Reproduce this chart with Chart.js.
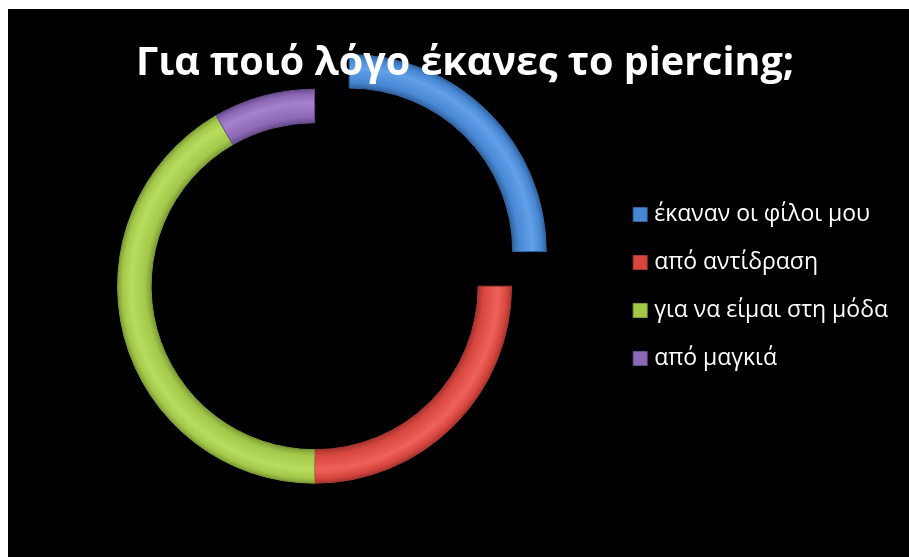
<!DOCTYPE html>
<html>
<head>
<meta charset="utf-8">
<script src="https://cdn.jsdelivr.net/npm/chart.js@4"></script>
<style>
  html, body { margin: 0; padding: 0; background: #ffffff; width: 909px; height: 557px; overflow: hidden; }
  #wrap { position: absolute; left: 8px; top: 9px; width: 901px; height: 548px; background: #000000; }
  canvas { display: block; }
</style>
</head>
<body>
<div id="wrap"><canvas id="c" width="901" height="548"></canvas></div>
<script>
const titleText = 'Για ποιό λόγο έκανες το piercing;';
const categories = ['έκαναν οι φίλοι μου', 'από αντίδραση', 'για να είμαι στη μόδα', 'από μαγκιά'];
const values = [3, 3, 5, 1];
const sliceColors = ['#4787D4', '#D8473F', '#A3C84A', '#8D68B6'];
const lightColors = ['#62A0E8', '#EE6259', '#B8DC5E', '#A682CC'];
const edgeColors = ['#33649F', '#A8352F', '#7E9E36', '#6A4E8E'];
const explode = [196, 0, 0, 0];
const outerR = 197;
const cutoutFrac = 0.83;
const rightGap = 15.5;

function ringFill(ctx) {
  const i = ctx.dataIndex;
  const area = ctx.chart.chartArea;
  if (!area || i === undefined) return sliceColors[i || 0];
  const cx = (area.left + area.right) / 2;
  const cy = (area.top + area.bottom) / 2;
  const inner = outerR * cutoutFrac;
  const g = ctx.chart.ctx.createRadialGradient(cx, cy, inner, cx, cy, outerR);
  g.addColorStop(0, edgeColors[i]);
  g.addColorStop(0.18, sliceColors[i]);
  g.addColorStop(0.6, lightColors[i]);
  g.addColorStop(0.85, sliceColors[i]);
  g.addColorStop(1, edgeColors[i]);
  return g;
}

const layoutTweaks = {
  id: 'layoutTweaks',
  start(chart) {
    if (Chart.layouts && Chart.layouts.addBox) {
      Chart.layouts.addBox(chart, {
        position: 'right', weight: 5000, fullSize: false, options: { display: false },
        width: 0, height: 0,
        isHorizontal() { return false; },
        update(maxWidth, maxHeight) { this.width = rightGap; this.height = maxHeight; },
        draw() {}
      });
    }
    const tb = chart.titleBlock;
    if (tb) {
      tb._layers = function () { return [{ z: 1, draw: (ca) => tb.draw(ca) }]; };
    }
  }
};

new Chart(document.getElementById('c'), {
  type: 'doughnut',
  data: {
    labels: categories,
    datasets: [{
      data: values,
      backgroundColor: ringFill,
      borderColor: edgeColors,
      borderWidth: 1,
      offset: explode,
      hoverOffset: 0
    }]
  },
  plugins: [layoutTweaks],
  options: {
    responsive: false,
    animation: false,
    events: [],
    cutout: (cutoutFrac * 100) + '%',
    radius: outerR,
    layout: { padding: { left: 8.5, right: -4.5, top: 0, bottom: 82 } },
    plugins: {
      tooltip: { enabled: false },
      title: {
        display: true,
        text: titleText,
        color: '#ffffff',
        font: { family: '"Open Sans", sans-serif', size: 39.5, weight: 'bold' },
        padding: { top: 31, bottom: 10 }
      },
      legend: {
        position: 'right',
        align: 'center',
        title: { display: true, text: ' ', padding: { top: 65, bottom: 0 }, font: { size: 20 } },
        labels: {
          color: '#ffffff',
          font: { family: '"Open Sans", sans-serif', size: 23 },
          usePointStyle: true,
          pointStyle: 'rect',
          boxWidth: 5,
          boxHeight: 14,
          padding: 25,
          generateLabels: (chart) => categories.map((text, i) => ({
            text: text,
            fillStyle: sliceColors[i],
            strokeStyle: edgeColors[i],
            lineWidth: 1,
            pointStyle: 'rect',
            fontColor: '#ffffff',
            hidden: false,
            index: i
          }))
        }
      }
    }
  }
});
</script>
</body>
</html>
